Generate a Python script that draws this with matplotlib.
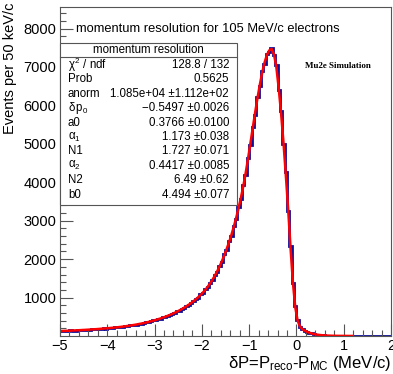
import numpy as np
import matplotlib
matplotlib.use("Agg")
import matplotlib.pyplot as plt
from matplotlib.patches import Rectangle

plt.rcParams['font.family'] = ['Liberation Sans', 'DejaVu Sans']
plt.rcParams['mathtext.fontset'] = 'custom'
plt.rcParams['mathtext.rm'] = 'Liberation Sans'
plt.rcParams['mathtext.it'] = 'Liberation Sans'
plt.rcParams['mathtext.bf'] = 'Liberation Sans:bold'

# histogram: 140 bins of 50 keV from -5 to 2 MeV/c
x_lo, x_hi, n_bins = -5.0, 2.0, 140
hist_counts = [
    140, 126, 138, 135, 149, 139, 143, 152, 155, 151,
    163, 160, 165, 176, 170, 181, 183, 186, 200, 195,
    199, 214, 212, 227, 225, 240, 241, 256, 255, 276,
    276, 295, 298, 316, 322, 331, 357, 362, 380, 405,
    414, 441, 452, 482, 497, 529, 545, 583, 599, 641,
    660, 709, 729, 784, 808, 871, 898, 969, 1001, 1082,
    1121, 1218, 1270, 1388, 1452, 1590, 1670, 1828, 1932, 2121,
    2240, 2462, 2605, 2866, 3040, 3350, 3560, 3925, 4190, 4640,
    4960, 5440, 5760, 6220, 6500, 6890, 7080, 7350, 7400, 7490,
    7300, 7040, 6410, 5850, 5000, 4260, 3260, 2350, 1370, 770,
    410, 245, 185, 136, 112, 83, 66, 48, 39, 28,
    23, 16, 13, 11, 7, 6, 5, 4, 3, 3,
    2, 2, 2, 1, 1, 1, 1, 0, 1, 0,
    0, 0, 0, 0, 0, 0, 0, 0, 0, 0,
]

# fitted curve, read at the bin centres over the fit range
fit_vals = [
    130, 132, 135, 137, 140, 143, 146, 149, 152, 156,
    159, 163, 167, 171, 175, 179, 184, 189, 194, 199,
    204, 210, 216, 222, 229, 236, 244, 252, 261, 270,
    280, 290, 301, 313, 325, 338, 352, 367, 383, 400,
    418, 437, 457, 478, 500, 524, 549, 576, 604, 634,
    666, 700, 736, 775, 816, 860, 907, 958, 1012, 1070,
    1135, 1205, 1283, 1370, 1465, 1570, 1685, 1810, 1950, 2100,
    2265, 2440, 2630, 2840, 3070, 3320, 3590, 3890, 4230, 4600,
    5000, 5400, 5800, 6180, 6530, 6850, 7110, 7310, 7430, 7470,
    7330, 7000, 6450, 5800, 5050, 4200, 3300, 2300, 1400, 750,
    400, 250, 180, 140, 110, 85, 65, 50, 38, 29,
    22, 17, 13, 10, 8, 6, 5, 4, 3, 3,
    2, 2, 1, 1,
]

stat_names = [r'$\chi^{2}$ / ndf', 'Prob', 'anorm', r'$\delta\,$p$_0$', 'a0',
              r'$\alpha_1$', 'N1', r'$\alpha_2$', 'N2', 'b0']
stat_vals = ['128.8 / 132', '0.5625', '1.085e+04 \u00b11.112e+02',
             '\u22120.5497 \u00b10.0026', '0.3766 \u00b10.0100', '1.173 \u00b10.038',
             '1.727 \u00b10.071', '0.4417 \u00b10.0085', '6.49 \u00b10.62',
             '4.494 \u00b10.077']

W, H = 393, 374
fig = plt.figure(figsize=(W / 100, H / 100), dpi=100)
ax = fig.add_axes([60 / W, 1 - 336 / H, 331 / W, 329 / H])

edges = np.linspace(x_lo, x_hi, n_bins + 1)
centers = 0.5 * (edges[:-1] + edges[1:])
ax.stairs(hist_counts, edges, baseline=None, color='#0b0b96', lw=2.0)
ax.plot(centers[:len(fit_vals)], fit_vals, color='#ff0000', lw=1.8)

ax.set_xlim(x_lo, x_hi)
ax.set_ylim(0, 8560)
ax.set_xticks(range(-5, 3))
ax.set_xticks(np.arange(-5, 2.01, 0.2), minor=True)
ax.set_yticks(range(1000, 8001, 1000))
ax.set_yticks(range(200, 8560, 200), minor=True)
ax.set_xticklabels(['\u22125', '\u22124', '\u22123', '\u22122', '\u22121', '0', '1', '2'])
ax.tick_params(direction='in', which='major', length=9, width=0.8, labelsize=10.5,
               top=False, right=False, pad=2.5, color='#555555')
ax.tick_params(direction='in', which='minor', length=4.5, width=0.8,
               top=False, right=False, color='#555555')
for s in ax.spines.values():
    s.set_linewidth(0.8)
    s.set_color('#555555')

fig.text(10 / W, 1 - 2 / H, 'Events per 50 keV/c', rotation=90, ha='center', va='top',
         fontsize=10.5)
fig.text(392 / W, 1 - 368 / H, r'$\delta$P=P$_{\rm reco}$-P$_{\rm MC}$ (MeV/c)',
         ha='right', va='baseline', fontsize=12)
fig.text(76 / W, 1 - 29 / H, 'momentum resolution for 105 MeV/c electrons',
         ha='left', va='center', fontsize=9.3)
fig.text(338 / W, 1 - 66 / H, 'Mu2e Simulation', family='Liberation Serif',
         weight='bold', ha='center', va='center', fontsize=6.5)

# stats box
box = Rectangle((60 / W, 1 - 205 / H), 177 / W, 162 / H, transform=fig.transFigure,
                facecolor='white', edgecolor='#555555', lw=0.8, zorder=5)
fig.patches.append(box)
fig.add_artist(plt.Line2D([60 / W, 237 / W], [1 - 57 / H, 1 - 57 / H],
                          transform=fig.transFigure, color='#555555', lw=0.8, zorder=6))
fig.text(148 / W, 1 - 50 / H, 'momentum resolution', ha='center', va='center',
         fontsize=8.3, zorder=7)
for i, (nm, vl) in enumerate(zip(stat_names, stat_vals)):
    yy = 1 - (65 + 14.4 * i) / H
    fig.text(68 / W, yy, nm, ha='left', va='center', fontsize=8.3, zorder=7)
    fig.text(229 / W, yy, vl, ha='right', va='center', fontsize=8.3, zorder=7)

fig.savefig('out.png', dpi=100)
